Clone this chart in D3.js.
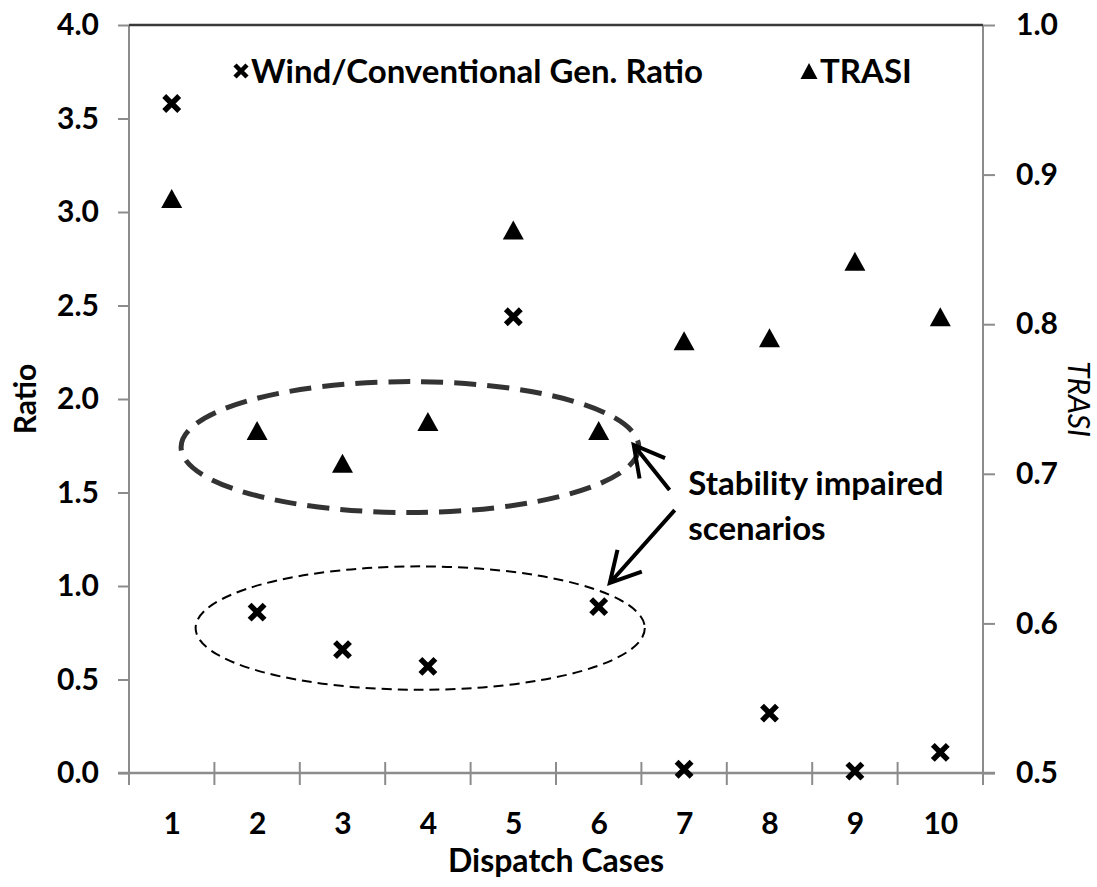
<!DOCTYPE html>
<meta charset="utf-8">
<style>
body { margin: 0; background: #fff; }
svg text { font-family: Lato, "Open Sans", sans-serif; font-weight: bold; fill: #000; }
</style>
<body>
<script src="https://cdn.jsdelivr.net/npm/d3@7/dist/d3.min.js"></script>
<script>

var width = 1097,
    height = 887,
    plotLeft = 129, plotRight = 983,
    plotTop = 25, plotBottom = 773;

// data
var cases = [1, 2, 3, 4, 5, 6, 7, 8, 9, 10];
var ratio = [3.58, 0.86, 0.66, 0.57, 2.44, 0.89, 0.02, 0.32, 0.01, 0.11];
var trasi = [0.884, 0.729, 0.707, 0.735, 0.863, 0.729, 0.789, 0.791, 0.842, 0.805];
var ratioTicks = [0, 0.5, 1, 1.5, 2, 2.5, 3, 3.5, 4];
var trasiTicks = [0.5, 0.6, 0.7, 0.8, 0.9, 1.0];
var legendNames = ["Wind/Conventional Gen. Ratio", "TRASI"];

var axisColor = "#8c8c8c";

var x = d3.scaleLinear().domain([0.5, 10.5]).range([plotLeft, plotRight]);
var yL = d3.scaleLinear().domain([0, 4]).range([plotBottom, plotTop]);
var yR = d3.scaleLinear().domain([0.5, 1]).range([plotBottom, plotTop]);

var svg = d3.select("body").append("svg")
    .attr("width", width)
    .attr("height", height);

// left axis
var gL = svg.append("g")
    .attr("transform", "translate(" + plotLeft + ",0)")
    .call(d3.axisLeft(yL).tickValues(ratioTicks).tickSize(11).tickSizeOuter(0)
      .tickPadding(19).tickFormat(d3.format(".1f")));
gL.select(".domain").remove();

// right axis
var gR = svg.append("g")
    .attr("transform", "translate(" + plotRight + ",0)")
    .call(d3.axisRight(yR).tickValues(trasiTicks).tickSize(12).tickSizeOuter(0)
      .tickPadding(21).tickFormat(d3.format(".1f")));
gR.select(".domain").remove();

// bottom labels
var gB = svg.append("g")
    .attr("transform", "translate(0," + plotBottom + ")")
    .call(d3.axisBottom(x).tickValues(cases).tickSize(0).tickPadding(40));
gB.select(".domain").remove();

// bottom boundary ticks (crossing the axis)
var bounds = d3.range(0, 11).map(d => d + 0.5);
svg.append("g").selectAll("line")
    .data(bounds)
    .enter().append("line")
    .attr("x1", d => x(d)).attr("x2", d => x(d))
    .attr("y1", plotBottom - 11).attr("y2", plotBottom + 12)
    .attr("stroke", axisColor).attr("stroke-width", 2);

[gL, gR, gB].forEach(g => {
  g.attr("font-size", null).attr("font-family", null);
  g.selectAll("text").style("font-size", "30px");
  g.selectAll("line").attr("stroke", axisColor).attr("stroke-width", 2);
});

// axis lines
svg.append("line").attr("x1", plotLeft).attr("x2", plotLeft).attr("y1", plotTop).attr("y2", plotBottom + 12)
    .attr("stroke", axisColor).attr("stroke-width", 2);
svg.append("line").attr("x1", plotRight).attr("x2", plotRight).attr("y1", plotTop).attr("y2", plotBottom + 12)
    .attr("stroke", axisColor).attr("stroke-width", 2);
svg.append("line").attr("x1", plotLeft - 11).attr("x2", plotRight + 12).attr("y1", plotBottom).attr("y2", plotBottom)
    .attr("stroke", axisColor).attr("stroke-width", 2.5);
svg.append("line").attr("x1", plotLeft).attr("x2", plotRight).attr("y1", plotTop).attr("y2", plotTop)
    .attr("stroke", "#3a3a3a").attr("stroke-width", 2.5);

// axis titles
svg.append("text")
    .attr("transform", "translate(36," + (plotTop + plotBottom) / 2 + ") rotate(-90)")
    .attr("text-anchor", "middle")
    .style("font-size", "30px")
    .text("Ratio");
svg.append("text")
    .attr("transform", "translate(1068," + (plotTop + plotBottom) / 2 + ") rotate(90)")
    .attr("text-anchor", "middle")
    .style("font-size", "30px").style("font-style", "italic").style("font-weight", "normal")
    .text("TRASI");
svg.append("text")
    .attr("x", (plotLeft + plotRight) / 2).attr("y", 872)
    .attr("text-anchor", "middle")
    .style("font-size", "32px")
    .text("Dispatch Cases");

// markers
var crossPath = s => "M" + -s + "," + -s + "L" + s + "," + s + "M" + -s + "," + s + "L" + s + "," + -s;
var triPath = (w, h) => "M0," + (-h / 2) + "L" + (w / 2) + "," + (h / 2) + "L" + (-w / 2) + "," + (h / 2) + "Z";

svg.append("g").selectAll("path")
    .data(cases)
    .enter().append("path")
    .attr("transform", (d, i) => "translate(" + x(d) + "," + yR(trasi[i]) + ")")
    .attr("d", triPath(21, 19))
    .attr("fill", "#000");

svg.append("g").selectAll("path")
    .data(cases)
    .enter().append("path")
    .attr("transform", (d, i) => "translate(" + x(d) + "," + yL(ratio[i]) + ")")
    .attr("d", crossPath(7.5))
    .attr("stroke", "#000").attr("stroke-width", 5.5);

// legend
svg.append("path").attr("transform", "translate(241,71)")
    .attr("d", crossPath(6)).attr("stroke", "#000").attr("stroke-width", 4.5);
svg.append("text").attr("x", 251).attr("y", 83)
    .style("font-size", "33px").text(legendNames[0]);
svg.append("path").attr("transform", "translate(809,71)")
    .attr("d", triPath(17, 16)).attr("fill", "#000");
svg.append("text").attr("x", 820).attr("y", 83)
    .style("font-size", "33px").text(legendNames[1]);

// annotation: ellipses around impaired cases (data units)
svg.append("ellipse")
    .attr("cx", x(3.79)).attr("cy", yL(1.743))
    .attr("rx", x(3.79 + 2.68) - x(3.79)).attr("ry", yL(1.743) - yL(1.743 + 0.35))
    .attr("fill", "none").attr("stroke", "#333").attr("stroke-width", 5)
    .attr("stroke-dasharray", "22 11");
svg.append("ellipse")
    .attr("cx", x(3.91)).attr("cy", yL(0.775))
    .attr("rx", x(3.91 + 2.63) - x(3.91)).attr("ry", yL(0.775) - yL(0.775 + 0.33))
    .attr("fill", "none").attr("stroke", "#000").attr("stroke-width", 2)
    .attr("stroke-dasharray", "10 6");

function arrow(c0, v0, c1, v1) {
  var x0 = x(c0), y0 = yL(v0), x1 = x(c1), y1 = yL(v1),
      a = Math.atan2(y0 - y1, x0 - x1), len = 34, spread = 0.5;
  var p = "M" + x0 + "," + y0 + "L" + x1 + "," + y1 +
      "M" + (x1 + len * Math.cos(a - spread)) + "," + (y1 + len * Math.sin(a - spread)) +
      "L" + x1 + "," + y1 +
      "L" + (x1 + len * Math.cos(a + spread)) + "," + (y1 + len * Math.sin(a + spread));
  svg.append("path").attr("d", p).attr("fill", "none")
      .attr("stroke", "#000").attr("stroke-width", 4);
}
arrow(6.83, 1.513, 6.41, 1.754);
arrow(6.89, 1.406, 6.13, 1.016);

svg.append("text").attr("x", x(7.05)).attr("y", yL(1.487))
    .style("font-size", "33px").text("Stability impaired");
svg.append("text").attr("x", x(7.05)).attr("y", yL(1.246))
    .style("font-size", "33px").text("scenarios");

</script>
